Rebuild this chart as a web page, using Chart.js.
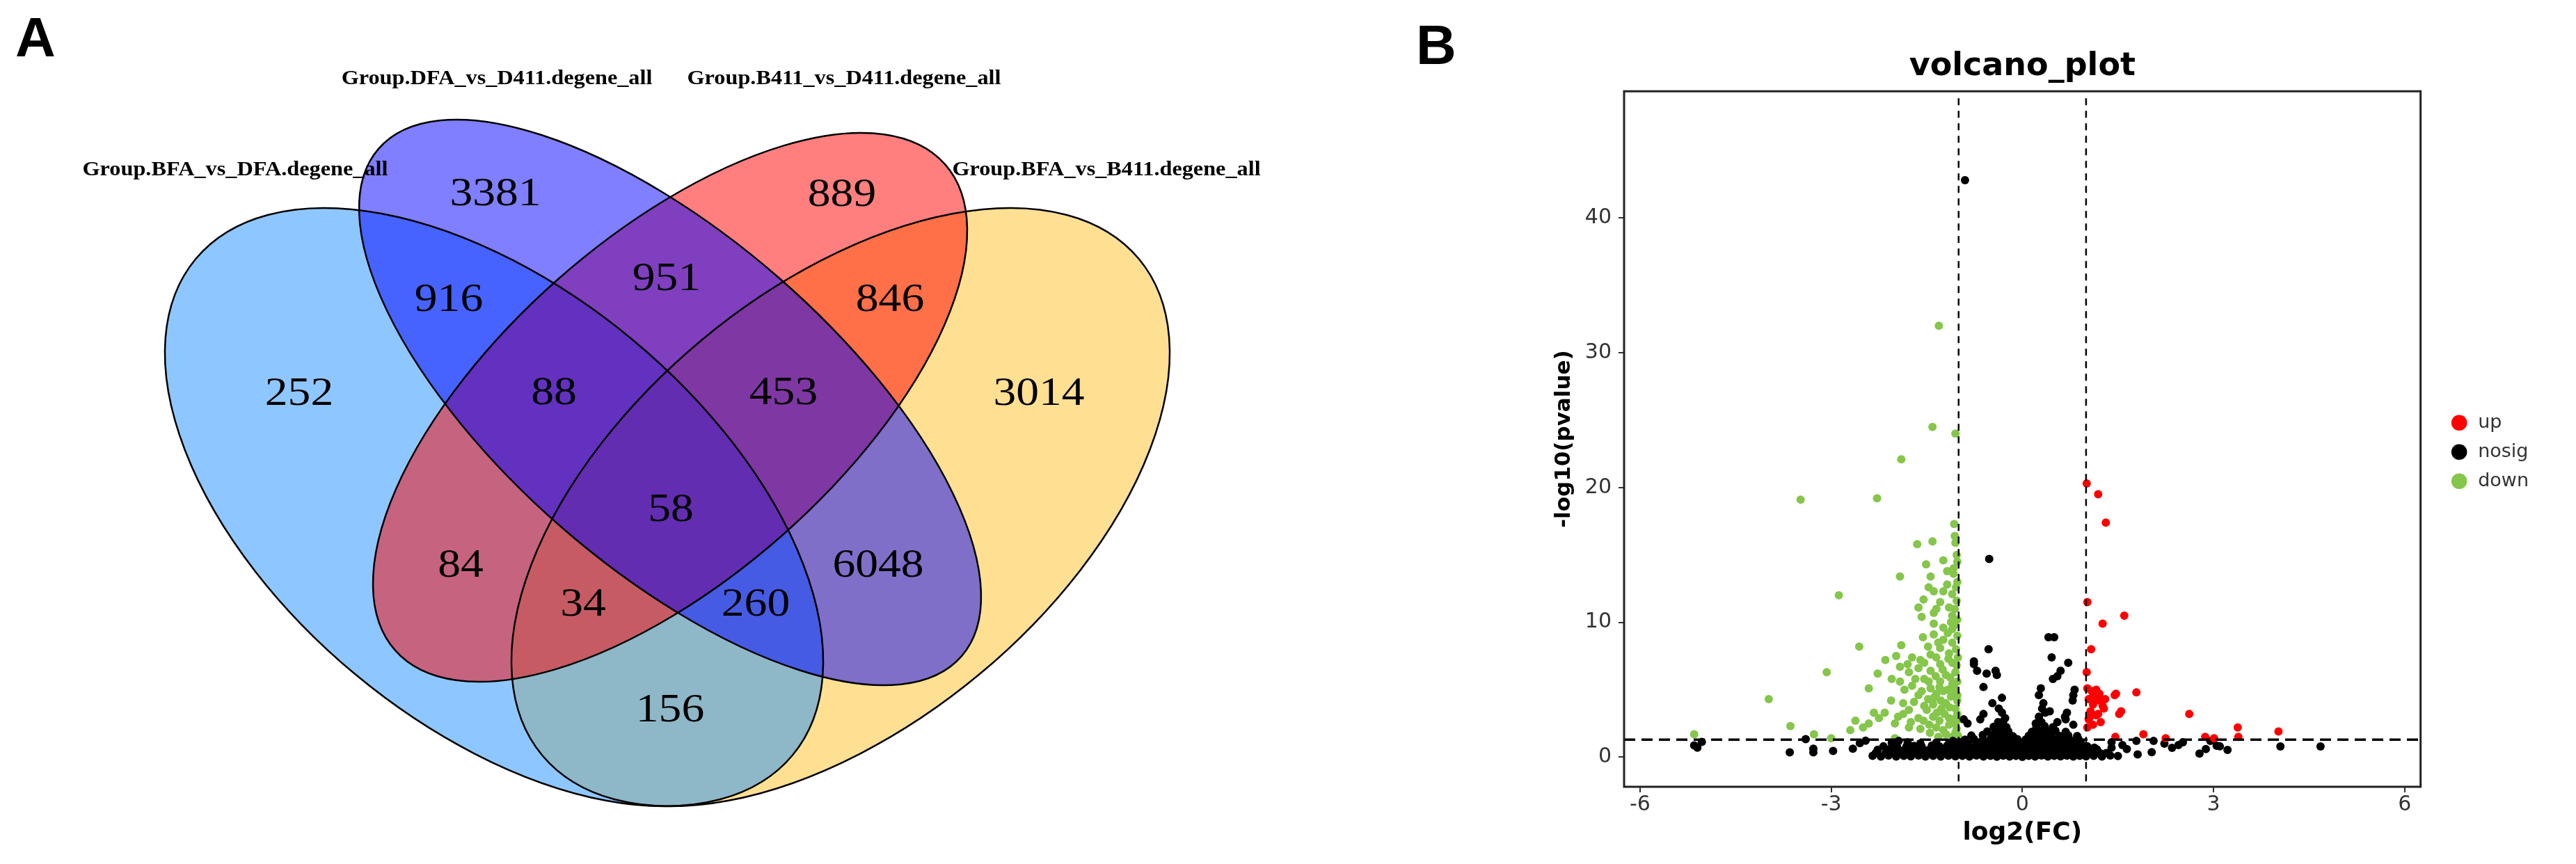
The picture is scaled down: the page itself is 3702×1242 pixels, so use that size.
<!DOCTYPE html>
<html>
<head>
<meta charset="utf-8">
<script src="https://cdn.jsdelivr.net/npm/chart.js@4.4.1/dist/chart.umd.min.js"></script>
<style>
  html, body { margin: 0; padding: 0; background: #fff; }
  body { width: 3702px; height: 1242px; position: relative; overflow: hidden; }
  .panel { position: absolute; top: 0; height: 1242px; }
  #vennBox { left: 0; width: 1900px; }
  #volcanoBox { left: 2150px; width: 1552px; }
  .tag { position: absolute; font-family: "Liberation Sans", Arial, sans-serif; font-weight: bold;
         font-size: 80px; line-height: 80px; color: #000; }
</style>
</head>
<body>
<div class="tag" style="left:22px; top:14px;">A</div>
<div class="tag" style="left:2035px; top:25px;">B</div>
<div class="panel" id="vennBox"><canvas id="venn"></canvas></div>
<div class="panel" id="volcanoBox"><canvas id="volcano"></canvas></div>
<script>
// ---------- panel A : 4-set venn ----------
const setNames = [
  'Group.BFA_vs_DFA.degene_all',
  'Group.DFA_vs_D411.degene_all',
  'Group.B411_vs_D411.degene_all',
  'Group.BFA_vs_B411.degene_all'
];
// A = BFA_vs_DFA, B = DFA_vs_D411, C = B411_vs_D411, D = BFA_vs_B411
const regionSets   = ['B', 'C', 'AB', 'BC', 'CD', 'A', 'ABC', 'BCD', 'D', 'ABCD', 'AC', 'BD', 'ACD', 'ABD', 'AD'];
const regionCounts = [3381, 889, 916, 951, 846, 252, 88, 453, 3014, 58, 84, 6048, 34, 260, 156];

// ---------- panel B : volcano plot ----------
const legendLabels = ['up', 'nosig', 'down'];
const upPoints = [
  [1.01,20.3],[1.19,19.5],[1.31,17.4],[1.02,11.5],[1.60,10.5],[1.26,9.9],[1.08,8.0],[1.01,6.3],
  [1.79,4.8],[1.45,4.6],[1.09,4.9],[1.19,4.6],[1.04,4.3],[1.24,4.1],[1.11,3.9],[1.02,5.1],
  [1.28,3.6],[1.07,3.4],[1.19,3.2],[1.52,3.2],[1.04,2.8],[1.23,2.6],[1.02,2.2],[2.62,3.2],
  [3.38,2.2],[3.39,1.5],[4.02,1.9],[1.46,1.5],[1.90,1.7],[2.25,1.4],[2.87,1.5],[3.01,1.4],
  [1.16,5.0],[1.21,4.7],[1.11,4.5],[1.26,3.8],[1.16,3.1],[1.11,2.4],[1.47,4.7],[1.55,3.4],
  [1.14,4.2],[1.30,4.3],[1.06,3.0]
];
const nosigPoints = [
  [-0.9,42.8],[-0.52,14.7],[0.41,8.9],[0.5,8.9],[-0.53,8.0],[-0.76,7.1],[-0.76,6.9],[-0.71,6.4],
  [-0.42,6.4],[-0.56,6.2],[-0.4,6.1],[0.46,7.4],[0.72,7.0],[0.6,6.4],[0.55,6.0],[0.48,5.8],
  [-0.61,5.2],[0.29,5.1],[0.82,5.0],[-0.32,4.4],[0.26,4.6],[0.8,4.6],[0.79,4.2],[-0.47,4.0],
  [0.33,4.0],[-0.37,3.6],[0.31,3.6],[-0.32,3.3],[0.36,3.3],[0.43,3.4],[0.7,3.3],[-0.61,3.2],
  [0.26,3.0],[0.67,3.0],[-0.27,2.9],[-0.92,2.8],[-0.66,2.8],[0.68,2.8],[-0.86,2.5],[0.21,2.5],
  [0.55,2.6],[0.8,2.4],
  [-5.15,0.87],[-5.03,1.13],[-5.1,0.7],[-3.65,0.36],[-3.4,1.34],[-3.28,0.62],[-3.28,0.36],
  [-2.97,0.46],[-2.66,0.62],[-2.55,1.04],[-2.46,1.22],[-1.94,1.2],[-1.09,1.2],
  [1.06,0.35],[1.13,0.7],[1.23,0.26],[1.4,0.7],[1.4,1.1],[1.57,0.9],[1.64,0.6],[1.79,1.2],
  [1.81,0.2],[2.03,0.37],[2.06,1.2],[2.23,1.0],[2.35,0.69],[2.45,0.9],[2.52,1.1],[2.78,0.27],
  [2.88,0.6],[2.95,1.2],[3.05,0.85],[3.1,0.8],[3.22,0.53],[4.05,0.79],[4.68,0.79],
  [-2.35,0.1],[-2.22,0.05],[-2.1,0.12],[-1.98,0.04],[-1.86,0.1],[-1.75,0.06],[-1.63,0.12],[-1.52,0.05],
  [-1.4,0.1],[-1.28,0.04],[-1.16,0.11],[-1.05,0.06],[-0.94,0.1],[-0.83,0.04],[-0.72,0.12],[-0.61,0.05],
  [-0.5,0.1],[-0.4,0.03],[-0.3,0.11],[-0.2,0.05],[-0.1,0.09],[0.0,0.02],[0.1,0.1],[0.2,0.05],
  [0.3,0.12],[0.4,0.04],[0.5,0.1],[0.6,0.06],[0.7,0.11],[0.8,0.05],[0.9,0.1],[1.0,0.06],
  [1.12,0.1],[1.25,0.05],[1.38,0.12],[1.5,0.08],
  [-2.3,0.32],[-2.15,0.28],[-2.02,0.35],[-1.9,0.3],[-1.78,0.33],[-1.66,0.27],[-1.55,0.34],[-1.45,0.3],
  [-1.33,0.36],[-1.2,0.28],[-1.1,0.33],[-0.98,0.3],[-0.87,0.35],[-0.76,0.29],[-0.65,0.34],[-0.55,0.3],
  [-0.45,0.36],[-0.35,0.28],[-0.25,0.33],[-0.15,0.3],[-0.05,0.35],[0.05,0.29],[0.15,0.34],[0.25,0.3],
  [0.35,0.36],[0.45,0.28],[0.55,0.33],[0.65,0.3],[0.75,0.35],[0.86,0.29],[0.97,0.32],[1.08,0.27],
  [1.2,0.34],[1.32,0.3],
  [-2.27,0.55],[-2.08,0.6],[-1.93,0.52],[-1.8,0.58],[-1.68,0.54],[-1.57,0.6],[-1.47,0.53],[-1.36,0.57],
  [-1.25,0.55],[-1.14,0.61],[-1.03,0.54],[-0.92,0.58],[-0.81,0.55],[-0.7,0.6],[-0.6,0.53],[-0.5,0.58],
  [-0.4,0.56],[-0.3,0.61],[-0.2,0.54],[-0.1,0.58],[0.0,0.55],[0.1,0.6],[0.2,0.53],[0.3,0.58],
  [0.4,0.56],[0.5,0.61],[0.6,0.54],[0.7,0.58],[0.8,0.55],[0.92,0.6],[1.05,0.52],[1.17,0.57],
  [-2.18,0.8],[-1.97,0.85],[-1.82,0.78],[-1.7,0.83],[-1.58,0.8],[-1.42,0.86],[-1.3,0.79],[-1.18,0.84],
  [-1.06,0.8],[-0.95,0.85],[-0.84,0.79],[-0.73,0.84],[-0.62,0.81],[-0.52,0.86],[-0.42,0.8],[-0.32,0.85],
  [-0.22,0.79],[-0.12,0.84],[-0.02,0.8],[0.08,0.85],[0.18,0.79],[0.28,0.84],[0.38,0.81],[0.48,0.86],
  [0.58,0.8],[0.68,0.85],[0.78,0.79],[0.9,0.84],[1.02,0.8],
  [-2.05,1.05],[-1.8,1.1],[-1.6,1.02],[-1.35,1.08],[-1.15,1.04],[-0.98,1.1],[-0.85,1.03],[-0.72,1.08],
  [-0.6,1.05],[-0.48,1.1],[-0.37,1.03],[-0.26,1.08],[-0.15,1.05],[-0.04,1.1],[0.07,1.03],[0.17,1.08],
  [0.27,1.05],[0.37,1.1],[0.47,1.03],[0.57,1.08],[0.68,1.05],[0.8,1.1],[0.92,1.04],
  [-0.9,1.3],[-0.76,1.35],[-0.62,1.28],[-0.5,1.33],[-0.4,1.3],[-0.3,1.36],[-0.2,1.29],[-0.08,1.33],
  [0.05,1.3],[0.16,1.35],[0.27,1.28],[0.38,1.33],[0.5,1.3],[0.62,1.36],[0.75,1.29],[0.88,1.33],
  [-0.8,1.6],[-0.62,1.65],[-0.48,1.58],[-0.38,1.63],[-0.28,1.6],[-0.15,1.55],[0.1,1.58],[0.22,1.63],
  [0.33,1.6],[0.45,1.65],[0.58,1.58],[0.72,1.62],[0.86,1.57],
  [-0.55,1.9],[-0.42,1.95],[-0.32,1.88],[-0.22,1.92],[0.15,1.88],[0.28,1.93],[0.4,1.9],[0.52,1.95],
  [0.68,1.88],
  [-0.45,2.25],[-0.35,2.3],[-0.25,2.22],[0.22,2.25],[0.35,2.3],[0.48,2.22],
  [-0.38,2.6],[-0.3,2.65],[0.3,2.6]
];
const downPoints = [
  [-1.31,32.0],[-1.41,24.5],[-1.05,24.0],[-1.90,22.1],[-3.48,19.1],[-2.28,19.2],[-1.07,17.3],[-1.65,15.8],
  [-1.41,16.0],[-1.05,15.9],[-1.24,14.6],[-1.02,14.5],[-1.51,14.3],[-1.92,13.4],[-1.44,13.4],[-2.88,12.0],
  [-1.55,11.7],[-1.39,12.3],[-1.24,12.3],[-1.10,12.1],[-1.29,11.5],[-1.63,11.1],[-1.39,10.7],[-1.15,11.1],
  [-1.10,10.5],[-1.39,9.9],[-1.24,9.6],[-1.10,9.5],[-1.39,9.1],[-1.24,8.7],[-1.10,8.5],[-2.56,8.2],
  [-1.90,8.3],[-1.29,8.1],[-1.44,7.6],[-1.15,7.7],[-1.98,7.5],[-2.15,7.2],[-1.73,7.4],[-1.54,7.0],
  [-1.29,6.9],[-1.10,7.0],[-1.92,6.7],[-1.63,6.6],[-3.07,6.3],[-2.27,6.2],[-1.78,6.3],[-1.44,6.4],
  [-1.20,6.1],[-1.05,6.3],[-1.54,5.8],[-1.29,5.6],[-1.92,5.6],[-1.10,5.4],[-1.73,5.3],[-1.44,5.1],
  [-2.41,5.1],[-1.24,4.9],[-1.05,4.8],[-1.63,4.6],[-3.98,4.3],[-2.06,4.2],[-1.39,4.4],[-1.87,4.0],
  [-1.20,4.0],[-1.54,3.8],[-1.05,3.6],[-2.33,3.3],[-2.16,3.3],[-1.87,3.2],[-1.34,3.3],[-1.63,2.9],
  [-1.15,2.9],[-2.62,2.7],[-2.41,2.5],[-2.00,2.5],[-1.46,2.4],[-1.05,2.5],[-3.64,2.3],[-2.70,2.0],
  [-1.78,2.2],[-1.24,2.0],[-1.05,1.8],[-3.27,1.7],[-3.00,1.4],[-5.15,1.7],[-2.00,1.4],
  [-1.02,13.0],[-1.08,13.6],[-1.18,12.8],[-1.03,11.6],[-1.12,10.0],[-1.02,9.0],[-1.17,9.2],[-1.32,8.5],
  [-1.04,8.0],[-1.16,7.3],[-1.35,7.4],[-1.03,6.8],[-1.25,6.5],[-1.36,6.0],[-1.13,5.9],[-1.02,5.6],
  [-1.47,5.6],[-1.30,5.2],[-1.17,5.0],[-1.58,4.9],[-1.35,4.7],[-1.12,4.5],[-1.02,4.2],[-1.48,4.3],
  [-1.28,4.2],[-1.70,4.1],[-1.40,3.9],[-1.14,3.7],[-1.27,3.6],[-1.78,3.5],[-1.50,3.5],[-1.02,3.2],
  [-1.22,3.2],[-1.40,3.0],[-1.95,3.0],[-1.08,2.8],[-1.30,2.7],[-1.55,2.7],[-1.75,2.6],[-1.15,2.4],
  [-1.35,2.2],[-1.60,2.1],[-1.03,2.1],[-1.20,1.7],[-1.45,1.8],[-1.10,1.5],[-1.32,1.5],[-2.25,2.9],
  [-2.50,2.2],[-1.85,5.0],[-2.05,5.8],[-1.68,5.8],[-1.80,6.9],[-1.60,7.2],[-1.48,8.2],[-1.56,8.9],
  [-1.35,11.0],[-1.18,13.8],[-1.47,12.6],[-1.58,10.4],
  [-1.03,15.0],[-1.06,16.4],[-1.02,10.2],[-1.06,11.0],[-1.04,12.6],[-1.01,7.4],[-1.06,9.8],[-1.08,14.0],
  [-1.01,2.8],[-1.02,4.6],[-1.07,5.2],[-1.01,1.6]
];
const xTickValues = [-6, -3, 0, 3, 6];
const yTickValues = [0, 10, 20, 30, 40];
const fcCutoffs = [-1, 1];
const pCutoff = 1.301;

// ---------- layout (panel A is drawn in its own pixel space) ----------
const regionLabelPos = [[712,276],[1210,277],[645,428],[958,398],[1279,428],[430,563],[796,562],[1126,562],
                        [1493,563],[964,730],[662,810],[1262,810],[838,866],[1086,866],[963,1018]];
const setLabelPos = [[338,252],[714,121],[1213,121],[1590,252]];
const ellipses = [
  {cx: 710,  cy: 729,   rx: 557.8, ry: 312.3, rot: 39.76},
  {cx: 963,  cy: 578.5, rx: 555.4, ry: 237.8, rot: 41.06},
  {cx: 963,  cy: 585.5, rx: 527.4, ry: 244.6, rot: -41.49},
  {cx: 1208, cy: 729,   rx: 557.8, ry: 312.3, rot: -39.76}
];
const setColours = ['rgba(30,144,255,0.5)', 'rgba(0,0,255,0.5)', 'rgba(255,0,0,0.5)', 'rgba(255,193,37,0.5)'];
const fillOrder = [3, 0, 2, 1];

const vennPlugin = {
  id: 'vennShapes',
  beforeDatasetsDraw(chart) {
    const {ctx, scales: {x, y}} = chart;
    const kx = x.getPixelForValue(1) - x.getPixelForValue(0);
    const ky = y.getPixelForValue(1) - y.getPixelForValue(0);
    const path = (e) => {
      ctx.save();
      ctx.beginPath();
      ctx.translate(x.getPixelForValue(e.cx), y.getPixelForValue(e.cy));
      ctx.scale(kx, ky);
      ctx.ellipse(0, 0, e.rx, e.ry, e.rot * Math.PI / 180, 0, Math.PI * 2);
      ctx.restore();
    };
    ctx.save();
    fillOrder.forEach(i => {
      path(ellipses[i]);
      ctx.fillStyle = setColours[i];
      ctx.fill();
    });
    ctx.strokeStyle = '#000';
    ctx.lineWidth = 2.5;
    ellipses.forEach(e => { path(e); ctx.stroke(); });
    ctx.restore();
  },
  afterDatasetsDraw(chart) {
    const {ctx, scales: {x, y}} = chart;
    const meta = chart.getDatasetMeta(0);
    const pts = chart.data.datasets[0].data;
    ctx.save();
    ctx.fillStyle = '#000';
    ctx.textAlign = 'center';
    ctx.textBaseline = 'alphabetic';
    ctx.font = '57px "Liberation Serif", "Times New Roman", serif';
    meta.data.forEach((el, i) => {
      ctx.save();
      ctx.translate(el.x, el.y + 19);
      ctx.scale(1.15, 1);
      ctx.fillText(String(pts[i].count), 0, 0);
      ctx.restore();
    });
    ctx.font = 'bold 30px "Liberation Serif", "Times New Roman", serif';
    setNames.forEach((name, i) => {
      ctx.save();
      ctx.translate(x.getPixelForValue(setLabelPos[i][0]), y.getPixelForValue(setLabelPos[i][1]));
      ctx.scale(1.075, 1);
      ctx.fillText(name, 0, 0);
      ctx.restore();
    });
    ctx.restore();
  }
};

new Chart(document.getElementById('venn'), {
  type: 'scatter',
  data: {
    datasets: [{
      label: 'regions',
      data: regionCounts.map((n, i) => ({x: regionLabelPos[i][0], y: regionLabelPos[i][1], count: n, sets: regionSets[i]})),
      pointRadius: 0,
      pointHoverRadius: 0
    }]
  },
  options: {
    responsive: true,
    maintainAspectRatio: false,
    animation: false,
    events: [],
    layout: {padding: 0},
    scales: {
      x: {type: 'linear', min: 0, max: 1900, display: false},
      y: {type: 'linear', min: 0, max: 1242, reverse: true, display: false}
    },
    plugins: {legend: {display: false}, tooltip: {enabled: false}}
  },
  plugins: [vennPlugin]
});

// ---------- volcano ----------
const volcanoPlugin = {
  id: 'volcanoGuides',
  afterDatasetsDraw(chart) {
    const {ctx, chartArea: a, scales: {x, y}} = chart;
    ctx.save();
    ctx.beginPath();
    ctx.rect(a.left, a.top, a.width, a.height);
    ctx.clip();
    ctx.strokeStyle = '#000';
    ctx.lineWidth = 2.5;
    ctx.setLineDash([10, 8]);
    fcCutoffs.forEach(v => {
      const px = x.getPixelForValue(v);
      ctx.beginPath();
      ctx.moveTo(px, a.top + 10);
      ctx.lineTo(px, a.bottom);
      ctx.stroke();
    });
    ctx.lineWidth = 3.5;
    ctx.setLineDash([16, 9]);
    const py = y.getPixelForValue(pCutoff);
    ctx.beginPath();
    ctx.moveTo(a.left, py);
    ctx.lineTo(a.right, py);
    ctx.stroke();
    ctx.restore();

    ctx.save();
    ctx.strokeStyle = '#222';
    ctx.lineWidth = 3;
    ctx.strokeRect(a.left, a.top, a.width, a.height);
    ctx.restore();
  }
};

const tickFont = {family: '"DejaVu Sans", sans-serif', size: 30};
const toXY = (arr) => arr.map(([x, y]) => ({x, y}));

new Chart(document.getElementById('volcano'), {
  type: 'scatter',
  data: {
    datasets: [
      {label: legendLabels[0], data: toXY(upPoints), backgroundColor: '#FF0000', borderWidth: 0, pointRadius: 6},
      {label: legendLabels[1], data: toXY(nosigPoints), backgroundColor: '#000000', borderWidth: 0, pointRadius: 6},
      {label: legendLabels[2], data: toXY(downPoints), backgroundColor: '#85C64B', borderWidth: 0, pointRadius: 6}
    ]
  },
  options: {
    responsive: true,
    maintainAspectRatio: false,
    animation: false,
    events: [],
    layout: {padding: {left: 0, right: 58, top: 0, bottom: 0}},
    scales: {
      x: {
        type: 'linear', min: -6.25, max: 6.25,
        afterBuildTicks: (s) => { s.ticks = xTickValues.map(v => ({value: v})); },
        afterFit: (s) => { s.height = 111; },
        grid: {display: true, drawOnChartArea: false, drawTicks: true, tickLength: 8, color: '#333', lineWidth: 2},
        border: {display: false},
        ticks: {font: tickFont, color: '#333', padding: 0, maxRotation: 0},
        title: {display: true, text: 'log2(FC)', color: '#000',
                font: {family: '"DejaVu Sans", sans-serif', size: 36, weight: 'bold'},
                padding: {top: 0, bottom: 23}}
      },
      y: {
        type: 'linear', min: -2.2, max: 49.4,
        afterBuildTicks: (s) => { s.ticks = yTickValues.map(v => ({value: v})); },
        afterFit: (s) => { s.width = 184; },
        grid: {display: true, drawOnChartArea: false, drawTicks: true, tickLength: 8, color: '#333', lineWidth: 2},
        border: {display: false},
        ticks: {font: tickFont, color: '#333', padding: 10},
        title: {display: true, text: '-log10(pvalue)', color: '#000',
                font: {family: '"DejaVu Sans", sans-serif', size: 31, weight: 'bold'},
                padding: {top: 79, bottom: 0}}
      },
      spacer: {
        type: 'linear', position: 'right', display: true,
        grid: {display: false}, border: {display: false}, ticks: {display: false},
        afterFit: (s) => { s.width = 27; }
      }
    },
    plugins: {
      tooltip: {enabled: false},
      title: {
        display: true, text: 'volcano_plot', color: '#000', fullSize: false,
        font: {family: '"DejaVu Sans", sans-serif', size: 46, weight: 'bold'},
        padding: {top: 68, bottom: 8}
      },
      legend: {
        display: true, position: 'right', fullSize: false, align: 'center',
        title: {display: true, text: '', font: {size: 31}, padding: 0},
        labels: {
          usePointStyle: true, pointStyle: 'circle', boxHeight: 16, boxWidth: 27, padding: 15,
          color: '#333', font: {family: '"DejaVu Sans", sans-serif', size: 27}
        }
      }
    }
  },
  plugins: [volcanoPlugin]
});
</script>
</body>
</html>
